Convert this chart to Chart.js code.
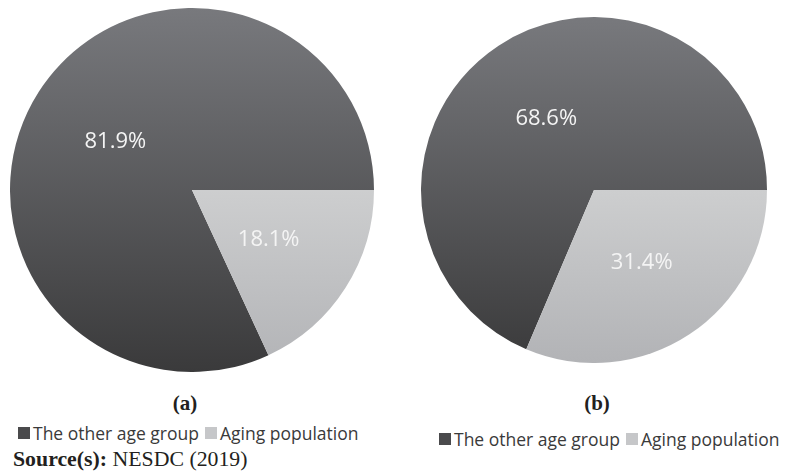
<!DOCTYPE html>
<html><head><meta charset="utf-8">
<script src="https://cdn.jsdelivr.net/npm/chart.js@4.4.1/dist/chart.umd.min.js"></script>
<style>
html,body{margin:0;padding:0;background:#fff;width:788px;height:472px;overflow:hidden;position:relative}
canvas{position:absolute}
.cap{position:absolute;font-family:"Liberation Serif","Times New Roman",serif;font-weight:bold;font-size:21px;color:#231f20;transform:translate(-50%,-50%);white-space:nowrap}
.leg{position:absolute;font-family:"Open Sans",sans-serif;font-size:17.5px;color:#3a3a3a;white-space:nowrap;transform:translateY(-50%);display:flex;align-items:center}
.sw{display:inline-block;width:12px;height:12px;margin-right:3px}
.src{position:absolute;left:13px;top:459px;transform:translateY(-50%);font-family:"Liberation Serif","Times New Roman",serif;font-size:21.8px;color:#231f20;white-space:nowrap}
</style></head>
<body>
<canvas id="pa" style="left:10px;top:8px;width:364px;height:364px"></canvas>
<canvas id="pb" style="left:421px;top:17px;width:346px;height:346px"></canvas>
<div class="cap" style="left:185px;top:403px">(a)</div>
<div class="cap" style="left:597px;top:403px">(b)</div>
<div class="leg" id="lega" style="left:18px;top:433px"></div>
<div class="leg" id="legb" style="left:439px;top:439px"></div>
<div class="src"><b>Source(s):</b> NESDC (2019)</div>
<script>
const categories = ["The other age group", "Aging population"];
const valuesA = [81.9, 18.1];
const valuesB = [68.6, 31.4];
const captions = ["(a)", "(b)"];

const darkStops = ["#78797d", "#3a3a3b"];
const lightStops = ["#cdcecf", "#b2b3b6"];

function fillFor(ctx) {
  const chart = ctx.chart;
  const area = chart.chartArea;
  if (!area) return ctx.dataIndex === 0 ? darkStops[1] : lightStops[0];
  const cy = (area.top + area.bottom) / 2;
  let g;
  if (ctx.dataIndex === 0) {
    g = chart.ctx.createLinearGradient(0, area.top, 0, area.bottom);
    g.addColorStop(0, darkStops[0]); g.addColorStop(1, darkStops[1]);
  } else {
    g = chart.ctx.createLinearGradient(0, cy, 0, area.bottom);
    g.addColorStop(0, lightStops[0]); g.addColorStop(1, lightStops[1]);
  }
  return g;
}

const labelPlugin = {
  id: 'pctLabels',
  afterDatasetsDraw(chart) {
    const c = chart.ctx;
    const meta = chart.getDatasetMeta(0);
    const data = chart.data.datasets[0].data;
    c.save();
    c.fillStyle = '#f4f4f4';
    c.font = '22px "Open Sans", sans-serif';
    c.textAlign = 'center';
    c.textBaseline = 'middle';
    meta.data.forEach((arc, i) => {
      const p = arc.tooltipPosition();
      c.fillText(data[i].toFixed(1) + '%', p.x, p.y + 1);
    });
    c.restore();
  }
};

function makePie(id, values) {
  const otherShare = values[1] / values.reduce((a, b) => a + b, 0);
  return new Chart(document.getElementById(id), {
    type: 'pie',
    data: { labels: categories, datasets: [{ data: values, backgroundColor: fillFor, borderWidth: 0 }] },
    options: {
      responsive: false,
      animation: false,
      rotation: 90 + otherShare * 360,
      layout: { padding: 0 },
      plugins: { legend: { display: false }, tooltip: { enabled: false } }
    },
    plugins: [labelPlugin]
  });
}

function sizeCanvas(id) {
  const el = document.getElementById(id);
  el.width = parseInt(el.style.width); el.height = parseInt(el.style.height);
}
sizeCanvas('pa'); sizeCanvas('pb');
makePie('pa', valuesA);
makePie('pb', valuesB);

function buildLegend(id) {
  const el = document.getElementById(id);
  const cols = ["#4a4a4c", "#c6c7c9"];
  categories.forEach((name, i) => {
    const s = document.createElement('span'); s.className = 'sw'; s.style.background = cols[i];
    if (i > 0) s.style.marginLeft = '6px';
    el.appendChild(s);
    const t = document.createElement('span'); t.textContent = name; el.appendChild(t);
  });
}
buildLegend('lega'); buildLegend('legb');
</script>
</body></html>
